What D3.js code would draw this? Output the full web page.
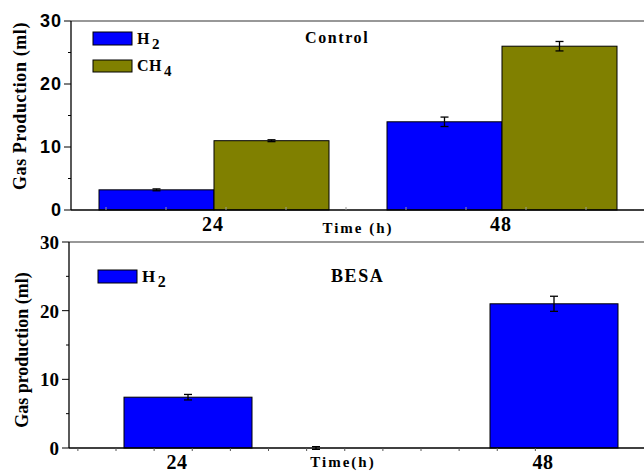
<!DOCTYPE html>
<html>
<head>
<meta charset="utf-8">
<script src="https://cdn.jsdelivr.net/npm/d3@7"></script>
<style>
  body { margin: 0; background: #fff; }
  svg { display: block; }
  .serif { font-family: "Liberation Serif", "Times New Roman", serif; font-weight: bold; }
  .sans { font-family: "Liberation Sans", Arial, sans-serif; font-weight: bold; }
</style>
</head>
<body>
<svg id="chart" width="644" height="472"></svg>
<script>
// data
const times         = [24, 48];
const controlH2     = [3.2, 14];
const controlH2Err  = [0.15, 0.75];
const controlCH4    = [11, 26];
const controlCH4Err = [0.15, 0.75];
const besaH2        = [7.4, 21];
const besaH2Err     = [0.4, 1.1];
const besaCH4       = [0, 0];
const besaCH4Err    = [0.2, 0];
const yTicks        = [0, 10, 20, 30];
const yMinorTicks   = [5, 15, 25];

const BLUE  = '#0000ff';
const OLIVE = '#808000';

const svg = d3.select('#chart');

// ---------- top panel (Control) ----------
const boxTop = { left: 71, right: 644, top: 21, bottom: 210 };
const xTop = d3.scaleLinear().domain([24, 48]).range([214, 502]);
const yTop = d3.scaleLinear().domain([0, 30]).range([boxTop.bottom, boxTop.top]);
const bwTop = 115;

// ---------- bottom panel (BESA) ----------
const boxBot = { left: 69, right: 644, top: 242, bottom: 448 };
const xBot = d3.scaleLinear().domain([24, 48]).range([177, 543]);
const yBot = d3.scaleLinear().domain([0, 30]).range([boxBot.bottom, boxBot.top]);
const bwBot = 128;
const botShift = -53; // bars sit slightly right of the tick label

function frame (g, box) {
    g.append('line')
        .attr('x1', box.left).attr('x2', box.right)
        .attr('y1', box.top).attr('y2', box.top)
        .attr('stroke', '#333').attr('stroke-width', 1.2);
}

function yAxis (g, box, y, labelClass, fontSize, labelX, spacing) {
    g.append('line')
        .attr('x1', box.left).attr('x2', box.left)
        .attr('y1', box.top).attr('y2', box.bottom)
        .attr('stroke', '#000').attr('stroke-width', 1.3);

    g.selectAll('.ymaj').data(yTicks).enter().append('line')
        .attr('x1', box.left - 7).attr('x2', box.left)
        .attr('y1', d => y(d)).attr('y2', d => y(d))
        .attr('stroke', '#000');

    g.selectAll('.ymin').data(yMinorTicks).enter().append('line')
        .attr('x1', box.left - 3).attr('x2', box.left)
        .attr('y1', d => y(d)).attr('y2', d => y(d))
        .attr('stroke', '#000');

    g.selectAll('.ylab').data(yTicks).enter().append('text')
        .attr('class', labelClass)
        .attr('x', labelX)
        .attr('y', d => y(d))
        .attr('dy', '0.36em')
        .attr('text-anchor', 'end')
        .attr('font-size', fontSize)
        .attr('letter-spacing', spacing)
        .text(d => d);
}

function bars (g, vals, errs, xs, w, y, color) {
    g.selectAll(null).data(vals).enter().append('rect')
        .attr('x', (d, i) => xs(i))
        .attr('y', d => y(d))
        .attr('width', w)
        .attr('height', d => y(0) - y(d))
        .attr('fill', color)
        .attr('stroke', '#000')
        .attr('stroke-width', 1);

    vals.forEach((v, i) => {
        if (errs[i] <= 0) return;
        let cx = xs(i) + w / 2;
        let e = g.append('g').attr('stroke', '#000').attr('stroke-width', 1.3);
        e.append('line').attr('x1', cx).attr('x2', cx)
            .attr('y1', y(v - errs[i])).attr('y2', y(v + errs[i]));
        [v - errs[i], v + errs[i]].forEach(ev => {
            e.append('line').attr('x1', cx - 4).attr('x2', cx + 4)
                .attr('y1', y(ev)).attr('y2', y(ev));
        });
    });
}

function legendItem (g, x, yBox, w, h, color, base, sub, fontSize) {
    g.append('rect')
        .attr('x', x).attr('y', yBox)
        .attr('width', w).attr('height', h)
        .attr('fill', color).attr('stroke', '#000').attr('stroke-width', 1);
    let t = g.append('text')
        .attr('class', 'serif')
        .attr('x', x + w + 5)
        .attr('y', yBox + h - 1)
        .attr('font-size', fontSize)
        .attr('letter-spacing', 0.5);
    t.append('tspan').text(base);
    t.append('tspan').attr('dy', 5).attr('dx', 2).attr('font-size', fontSize - 1).text(sub);
}

// ---- draw top ----
const gTop = svg.append('g');
frame(gTop, boxTop);

bars(gTop, controlH2, controlH2Err, i => xTop(times[i]) - bwTop, bwTop, yTop, BLUE);
bars(gTop, controlCH4, controlCH4Err, i => xTop(times[i]), bwTop, yTop, OLIVE);

gTop.append('line')
    .attr('x1', boxTop.left).attr('x2', boxTop.right)
    .attr('y1', boxTop.bottom).attr('y2', boxTop.bottom)
    .attr('stroke', '#000').attr('stroke-width', 1.3);
gTop.selectAll('.xmin').data(d3.range(15, 60, 5)).enter().append('line')
    .attr('x1', d => xTop(d)).attr('x2', d => xTop(d))
    .attr('y1', boxTop.bottom).attr('y2', boxTop.bottom - 3)
    .attr('stroke', '#999');

yAxis(gTop, boxTop, yTop, 'sans', 18, 62, 1);

gTop.selectAll('.xlab').data(times).enter().append('text')
    .attr('class', 'serif')
    .attr('x', d => xTop(d) - 1)
    .attr('y', 231)
    .attr('text-anchor', 'middle')
    .attr('font-size', 20)
    .attr('letter-spacing', 1)
    .text(d => d);

gTop.append('text')
    .attr('class', 'serif')
    .attr('x', 358).attr('y', 233)
    .attr('text-anchor', 'middle')
    .attr('font-size', 15)
    .attr('letter-spacing', 2)
    .text('Time (h)');

gTop.append('text')
    .attr('class', 'serif')
    .attr('transform', 'translate(26,106) rotate(-90)')
    .attr('text-anchor', 'middle')
    .attr('font-size', 18)
    .attr('letter-spacing', 0.6)
    .text('Gas Production (ml)');

gTop.append('text')
    .attr('class', 'serif')
    .attr('x', 305).attr('y', 43)
    .attr('font-size', 16)
    .attr('letter-spacing', 1.6)
    .text('Control');

legendItem(gTop, 93, 32, 39, 13, BLUE, 'H', '2', 16);
legendItem(gTop, 93, 60, 39, 12, OLIVE, 'CH', '4', 16);

// ---- draw bottom ----
const gBot = svg.append('g');
frame(gBot, boxBot);

gBot.append('clipPath').attr('id', 'clipBot')
    .append('rect')
    .attr('x', boxBot.left).attr('y', 0)
    .attr('width', boxBot.right - boxBot.left).attr('height', 472);

const gBotBars = gBot.append('g').attr('clip-path', 'url(#clipBot)');
bars(gBotBars, besaH2, besaH2Err, i => xBot(times[i]) + botShift, bwBot, yBot, BLUE);
bars(gBotBars, besaCH4, besaCH4Err, i => xBot(times[i]) + botShift + bwBot, bwBot, yBot, OLIVE);

gBot.append('line')
    .attr('x1', boxBot.left).attr('x2', boxBot.right)
    .attr('y1', boxBot.bottom).attr('y2', boxBot.bottom)
    .attr('stroke', '#000').attr('stroke-width', 1.3);
gBot.selectAll('.xmin').data(d3.range(17.5, 50, 2.5)).enter().append('line')
    .attr('x1', d => xBot(d)).attr('x2', d => xBot(d))
    .attr('y1', boxBot.bottom).attr('y2', boxBot.bottom + 3)
    .attr('stroke', '#555');

yAxis(gBot, boxBot, yBot, 'serif', 19, 59, 0);

gBot.selectAll('.xlab').data(times).enter().append('text')
    .attr('class', 'serif')
    .attr('x', d => xBot(d))
    .attr('y', 469)
    .attr('text-anchor', 'middle')
    .attr('font-size', 20)
    .attr('letter-spacing', 0.5)
    .text(d => d);

gBot.append('text')
    .attr('class', 'serif')
    .attr('x', 343).attr('y', 467)
    .attr('text-anchor', 'middle')
    .attr('font-size', 15)
    .attr('letter-spacing', 2)
    .text('Time(h)');

gBot.append('text')
    .attr('class', 'serif')
    .attr('transform', 'translate(28,350) rotate(-90)')
    .attr('text-anchor', 'middle')
    .attr('font-size', 18)
    .text('Gas production (ml)');

gBot.append('text')
    .attr('class', 'serif')
    .attr('x', 331).attr('y', 282)
    .attr('font-size', 18)
    .attr('letter-spacing', 1.6)
    .text('BESA');

legendItem(gBot, 98, 270, 39, 13, BLUE, 'H', '2', 17);
</script>
</body>
</html>
